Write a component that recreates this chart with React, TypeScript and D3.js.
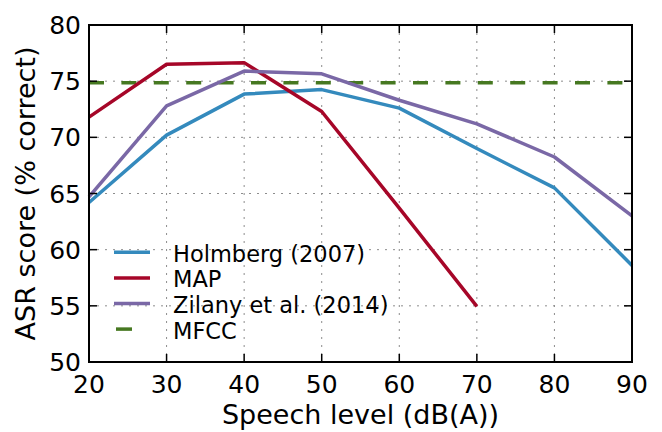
import { useEffect, useRef } from 'react'
import * as d3 from 'd3'

const levels = [20, 30, 40, 50, 60, 70, 80, 90]
const holmberg = [64.2, 70.2, 73.85, 74.25, 72.6, 69.0, 65.5, 58.6]
const mapLevels = [20, 30, 40, 50, 60, 70]
const mapScores = [71.8, 76.5, 76.65, 72.3, 63.7, 54.95]
const zilany = [64.7, 72.8, 75.9, 75.65, 73.3, 71.2, 68.25, 63.0]
const mfcc = 74.85

const xTicks = [20, 30, 40, 50, 60, 70, 80, 90]
const yTicks = [50, 55, 60, 65, 70, 75, 80]

const legendItems = [
  { label: 'Holmberg (2007)', color: '#348ABD', dashed: false },
  { label: 'MAP', color: '#A60628', dashed: false },
  { label: 'Zilany et al. (2014)', color: '#7A68A6', dashed: false },
  { label: 'MFCC', color: '#467821', dashed: true },
]

const WIDTH = 662
const HEIGHT = 432
const MARGIN = { top: 25, right: 30, bottom: 70, left: 89 }
const FONT = 'DejaVu Sans, sans-serif'

export default function App() {
  const ref = useRef<SVGSVGElement>(null)

  useEffect(() => {
    document.body.style.margin = '0'
    const svg = d3.select(ref.current)
    svg.selectAll('*').remove()

    const innerW = WIDTH - MARGIN.left - MARGIN.right
    const innerH = HEIGHT - MARGIN.top - MARGIN.bottom

    const x = d3.scaleLinear().domain([20, 90]).range([0, innerW])
    const y = d3.scaleLinear().domain([50, 80]).range([innerH, 0])

    const g = svg
      .append('g')
      .attr('transform', `translate(${MARGIN.left},${MARGIN.top})`)

    // grid
    const grid = g.append('g').attr('stroke', '#8c8c8c').attr('stroke-width', 1)
      .attr('stroke-dasharray', '2 6')
    xTicks.slice(1, -1).forEach((t) => {
      grid.append('line').attr('x1', x(t)).attr('x2', x(t)).attr('y1', 0).attr('y2', innerH)
    })
    yTicks.slice(1, -1).forEach((t) => {
      grid.append('line').attr('x1', 0).attr('x2', innerW).attr('y1', y(t)).attr('y2', y(t))
    })

    const line = d3
      .line<[number, number]>()
      .x((d) => x(d[0]))
      .y((d) => y(d[1]))

    g.append('path')
      .datum(levels.map((l): [number, number] => [l, mfcc]))
      .attr('d', line)
      .attr('fill', 'none')
      .attr('stroke', '#467821')
      .attr('stroke-width', 3.5)
      .attr('stroke-dasharray', '15 17.4')

    const series = [
      { xs: levels, ys: holmberg, color: '#348ABD' },
      { xs: mapLevels, ys: mapScores, color: '#A60628' },
      { xs: levels, ys: zilany, color: '#7A68A6' },
    ]
    series.forEach((s) => {
      g.append('path')
        .datum(s.xs.map((l, i): [number, number] => [l, s.ys[i]]))
        .attr('d', line)
        .attr('fill', 'none')
        .attr('stroke', s.color)
        .attr('stroke-width', 3.5)
        .attr('stroke-linejoin', 'round')
    })

    // ticks, inward on all sides
    const tickG = g.append('g').attr('stroke', '#000').attr('stroke-width', 1.5)
    xTicks.forEach((t) => {
      tickG.append('line').attr('x1', x(t)).attr('x2', x(t)).attr('y1', innerH).attr('y2', innerH - 8)
      tickG.append('line').attr('x1', x(t)).attr('x2', x(t)).attr('y1', 0).attr('y2', 8)
    })
    yTicks.forEach((t) => {
      tickG.append('line').attr('x1', 0).attr('x2', 8).attr('y1', y(t)).attr('y2', y(t))
      tickG.append('line').attr('x1', innerW).attr('x2', innerW - 8).attr('y1', y(t)).attr('y2', y(t))
    })

    g.append('rect')
      .attr('width', innerW)
      .attr('height', innerH)
      .attr('fill', 'none')
      .attr('stroke', '#000')
      .attr('stroke-width', 2)

    xTicks.forEach((t) => {
      g.append('text')
        .attr('x', x(t))
        .attr('y', innerH + 31)
        .attr('text-anchor', 'middle')
        .attr('font-family', FONT)
        .attr('font-size', 25)
        .text(t)
    })
    yTicks.forEach((t) => {
      g.append('text')
        .attr('x', -8)
        .attr('y', y(t) + 9)
        .attr('text-anchor', 'end')
        .attr('font-family', FONT)
        .attr('font-size', 25)
        .text(t)
    })

    g.append('text')
      .attr('x', innerW / 2)
      .attr('y', innerH + 62)
      .attr('text-anchor', 'middle')
      .attr('font-family', FONT)
      .attr('font-size', 27)
      .text('Speech level (dB(A))')

    g.append('text')
      .attr('transform', `translate(${-54},${innerH / 2}) rotate(-90)`)
      .attr('text-anchor', 'middle')
      .attr('font-family', FONT)
      .attr('font-size', 27)
      .text('ASR score (% correct)')

    // legend
    const leg = g.append('g').attr('transform', `translate(${114 - MARGIN.left},${252.3 - MARGIN.top})`)
    legendItems.forEach((item, i) => {
      const row = leg.append('g').attr('transform', `translate(0,${i * 25.6})`)
      if (item.dashed) {
        row.append('line').attr('x1', 2).attr('x2', 18).attr('y1', 0).attr('y2', 0)
          .attr('stroke', item.color).attr('stroke-width', 3.5)
      } else {
        row.append('line').attr('x1', 0).attr('x2', 36).attr('y1', 0).attr('y2', 0)
          .attr('stroke', item.color).attr('stroke-width', 3.5)
      }
      row.append('text')
        .attr('x', 59)
        .attr('y', 9.4)
        .attr('font-family', FONT)
        .attr('font-size', 22.5)
        .text(item.label)
    })
  }, [])

  return <svg ref={ref} width={WIDTH} height={HEIGHT} style={{ display: 'block', background: '#fff' }} />
}
